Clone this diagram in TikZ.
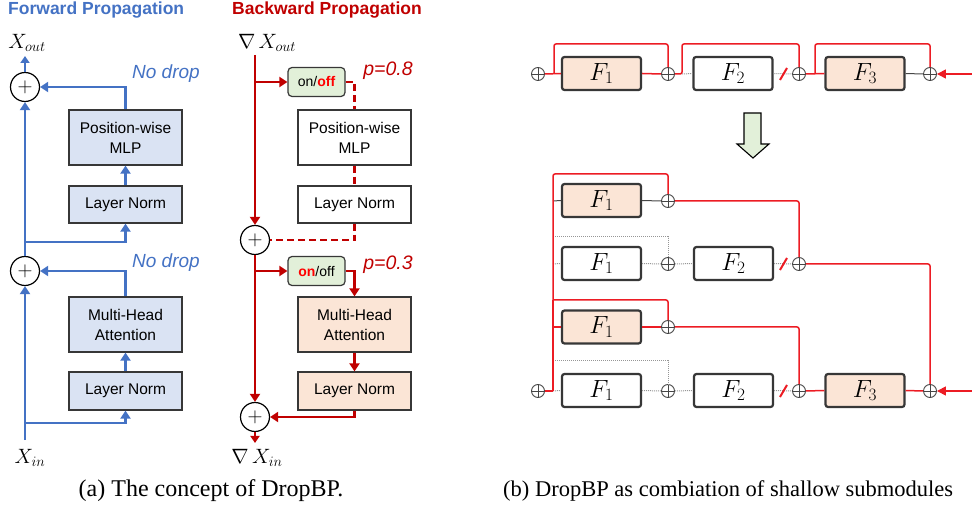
\documentclass[tikz,border=0pt]{standalone}
\usepackage{fontspec}
\setmainfont{Liberation Serif}
\newfontfamily\arial{Liberation Sans}
\usetikzlibrary{arrows.meta,calc}
\definecolor{fblue}{RGB}{68,114,196}
\definecolor{dred}{RGB}{192,0,0}
\definecolor{bred}{RGB}{236,28,36}
\definecolor{boxblue}{RGB}{218,227,243}
\definecolor{peach}{RGB}{251,229,214}
\definecolor{lgreen}{RGB}{226,240,217}
\definecolor{sgray}{RGB}{70,70,70}
\definecolor{dgray}{RGB}{150,150,150}
\definecolor{bdr}{RGB}{55,55,55}
\tikzset{
  arr/.style={-{Triangle[length=8pt,width=10pt]}},
  sarr/.style={-{Triangle[length=7pt,width=9pt]}},
  fline/.style={draw=fblue,line width=2.4pt},
  rline/.style={draw=dred,line width=2.4pt},
  pluscirc/.style={circle,draw=black,line width=1.2pt,minimum size=29pt,inner sep=0pt,font=\fontsize{22}{22}\selectfont},
  bbox/.style={draw=bdr,line width=1.3pt,minimum width=113pt,align=center,font=\arial\fontsize{15.5}{20}\selectfont},
  onoff/.style={draw=bdr,line width=1.2pt,fill=lgreen,rounded corners=4pt,minimum width=57pt,minimum height=29pt,font=\arial\fontsize{14}{16}\selectfont},
  fbox/.style={draw=bdr,line width=2.2pt,rounded corners=2.5pt,minimum width=79pt,minimum height=33pt,font=\fontsize{27}{27}\selectfont},
  oplus/.style={circle,draw=sgray,line width=0.9pt,minimum size=13pt,inner sep=0pt,
    path picture={\draw[sgray,line width=0.9pt] (path picture bounding box.north) -- (path picture bounding box.south) (path picture bounding box.west) -- (path picture bounding box.east);}},
  redl/.style={draw=bred,line width=1.5pt,rounded corners=2pt},
  grayl/.style={draw=sgray,line width=1pt},
  dotl/.style={draw=dgray,line width=1pt,dash pattern=on 1pt off 1pt},
  slash/.style={draw=bred,line width=2pt},
  lbl/.style={inner sep=0pt},
  mlbl/.style={inner sep=0pt,font=\fontsize{20}{20}\selectfont},
}
\begin{document}
\begin{tikzpicture}[x=1pt,y=-1pt]
\useasboundingbox (0,0) rectangle (972,510);

% ---------------- (a) Forward ----------------
\node[lbl,text=fblue,font=\arial\bfseries\fontsize{17.5}{17.5}\selectfont,anchor=west] (ftitle) at (8,10) {Forward Propagation};
\node[mlbl] (fxout) at (27,43) {$X_{out}$};
\node[mlbl] (fxin) at (30,458) {$X_{in}$};
\node[pluscirc] (fp1) at (25,87) {$+$};
\node[pluscirc] (fp2) at (25,271) {$+$};
\node[bbox,fill=boxblue,minimum height=55pt] (fmlp) at (125.5,137.5) {Position-wise\\MLP};
\node[bbox,fill=boxblue,minimum height=37pt] (fln1) at (125.5,204.5) {Layer Norm};
\node[bbox,fill=boxblue,minimum height=55pt] (fmha) at (125.5,324.5) {Multi-Head\\Attention};
\node[bbox,fill=boxblue,minimum height=38pt] (fln2) at (125.5,391) {Layer Norm};
\node[lbl,text=fblue,font=\arial\itshape\fontsize{19}{19}\selectfont] (fnd1) at (166,74) {No drop};
\node[lbl,text=fblue,font=\arial\itshape\fontsize{19}{19}\selectfont] (fnd2) at (166,263) {No drop};
\coordinate (fin) at (25,440);
\coordinate (fb2) at (25,423);
\coordinate (fb1) at (25,242);
\coordinate (fout) at (25,56);
\draw[fline,arr] (fin) -- (fp2.south);
\draw[fline,arr] (fb2) -| (fln2.south);
\draw[fline,arr] (fln2) -- (fmha);
\draw[fline,arr] (fmha.north) |- (fp2.east);
\draw[fline,arr] (fp2.north) -- (fp1.south);
\draw[fline,arr] (fb1) -| (fln1.south);
\draw[fline,arr] (fln1) -- (fmlp);
\draw[fline,arr] (fmlp.north) |- (fp1.east);
\draw[fline,sarr] (fp1.north) -- (fout);

% ---------------- (a) Backward ----------------
\node[lbl,text=dred,font=\arial\bfseries\fontsize{17.5}{17.5}\selectfont,anchor=west] (btitle) at (232,10) {Backward Propagation};
\node[mlbl] (bxout) at (267,43) {$\nabla\,X_{out}$};
\node[mlbl] (bxin) at (257,458) {$\nabla\,X_{in}$};
\node[pluscirc] (bp1) at (255,240) {$+$};
\node[pluscirc] (bp2) at (255,417) {$+$};
\node[onoff] (oo1) at (316.5,82) {on/\textcolor{red}{\bfseries off}};
\node[onoff] (oo2) at (316.5,271) {\textcolor{red}{\bfseries on}/off};
\node[bbox,fill=white,minimum height=55pt] (bmlp) at (354.5,137.5) {Position-wise\\MLP};
\node[bbox,fill=white,minimum height=37pt] (bln1) at (354.5,204.5) {Layer Norm};
\node[bbox,fill=peach,minimum height=55pt] (bmha) at (354.5,324.5) {Multi-Head\\Attention};
\node[bbox,fill=peach,minimum height=38pt] (bln2) at (354.5,391) {Layer Norm};
\node[lbl,text=dred,font=\arial\itshape\fontsize{19.5}{19.5}\selectfont] (pp1) at (388,71) {p=0.8};
\node[lbl,text=dred,font=\arial\itshape\fontsize{19.5}{19.5}\selectfont] (pp2) at (388,265) {p=0.3};
\coordinate (bout) at (255,55);
\coordinate (bb1) at (255,82);
\coordinate (bb2) at (255,271);
\coordinate (bin) at (255,443);
\draw[rline,arr] (bout) -- (bp1.north);
\draw[rline,arr] (bb1) -- (oo1.west);
\draw[rline,dash pattern=on 7pt off 4pt] (oo1.east) -| (bmlp.north);
\draw[rline,dash pattern=on 7pt off 4pt] (bmlp) -- (bln1);
\draw[rline,dash pattern=on 7pt off 4pt] (bln1.south) |- (bp1.east);
\draw[rline,arr] (bp1.south) -- (bp2.north);
\draw[rline,arr] (bb2) -- (oo2.west);
\draw[rline,arr] (oo2.east) -| (bmha.north);
\draw[rline,arr] (bmha) -- (bln2);
\draw[rline,arr] (bln2.south) |- (bp2.east);
\draw[rline,sarr] (bp2.south) -- (bin);

% ---------------- (b) top row ----------------
\node[oplus] (ta) at (538,74) {};
\node[fbox,fill=peach] (tf1) at (601.5,73.5) {$F_1$};
\node[oplus] (tb) at (668,74) {};
\node[fbox,fill=white] (tf2) at (733,73.5) {$F_2$};
\node[oplus] (tc) at (799,74) {};
\node[fbox,fill=peach] (tf3) at (865,73.5) {$F_3$};
\node[oplus] (td) at (930,74) {};
\coordinate (tl1) at (554,74);
\coordinate (tl2) at (682,74);
\coordinate (tl3) at (815,74);
\coordinate (tin) at (972,74);
\coordinate (ts1) at (780,80);
\coordinate (ts2) at (787,68);
\draw[dotl] (tl2) -- (tf2.west);
\draw[dotl] (tf2.east) -- (tc.west);
\draw[grayl] (tf3.east) -- (td.west);
\draw[redl] (ta.east) -- (tf1.west);
\draw[redl] (tl1) -- ++(0,-30) -| (tb.north);
\draw[redl] (tf1.east) -- (tb.west);
\draw[redl] (tb.east) -- (tl2) -- ++(0,-30) -| (tc.north);
\draw[redl] (tc.east) -- (tf3.west);
\draw[redl] (tl3) -- ++(0,-30) -| (td.north);
\draw[slash] (ts1) -- (ts2);
\draw[redl,-{Triangle[length=9pt,width=9pt]}] (tin) -- (td.east);

% block arrow
\draw[fill=lgreen,draw=black,line width=1.1pt,line join=miter] (744,113) -- (761,113) -- (761,144) -- (769,144) -- (753,158) -- (737,144) -- (744,144) -- cycle;

% ---------------- (b) lower rows ----------------
\node[fbox,fill=peach] (r1f1) at (601.5,200.5) {$F_1$};
\node[oplus] (r1o1) at (668,201) {};
\node[fbox,fill=white] (r2f1) at (601.5,263.5) {$F_1$};
\node[oplus] (r2o1) at (668,264) {};
\node[fbox,fill=white] (r2f2) at (733.5,263.5) {$F_2$};
\node[oplus] (r2o2) at (799,264) {};
\node[fbox,fill=peach] (r3f1) at (601.5,327) {$F_1$};
\node[oplus] (r3o1) at (668,327) {};
\node[oplus] (r4o0) at (538,391) {};
\node[fbox,fill=white] (r4f1) at (601.5,390.5) {$F_1$};
\node[oplus] (r4o1) at (668,391) {};
\node[fbox,fill=white] (r4f2) at (733.5,390.5) {$F_2$};
\node[oplus] (r4o2) at (799,391) {};
\node[fbox,fill=peach] (r4f3) at (865,390.5) {$F_3$};
\node[oplus] (r4o3) at (930,391) {};
\coordinate (bus1) at (553,201);
\coordinate (busd2) at (553,237);
\coordinate (bus2) at (553,264);
\coordinate (bus3t) at (553,300);
\coordinate (bus3) at (553,327);
\coordinate (busd4) at (553,361);
\coordinate (bus4) at (553,391);
\coordinate (r4in) at (972,391);
\coordinate (s2a) at (780,270);
\coordinate (s2b) at (787,258);
\coordinate (s4a) at (780,397);
\coordinate (s4b) at (787,385);
% dotted paths
\draw[dotl] (busd2) -| (r2o1.north);
\draw[dotl] (bus2) -- (r2f1.west);
\draw[dotl] (r2f1.east) -- (r2o1.west);
\draw[dotl] (r2o1.east) -- (r2f2.west);
\draw[dotl] (r2f2.east) -- (r2o2.west);
\draw[dotl] (busd4) -| (r4o1.north);
\draw[dotl] (bus4) -- (r4f1.west);
\draw[dotl] (r4f1.east) -- (r4o1.west);
\draw[dotl] (r4o1.east) -- (r4f2.west);
\draw[dotl] (r4f2.east) -- (r4o2.west);
% gray solid
\draw[grayl] (bus1) -- (r1f1.west);
\draw[grayl] (r1f1.east) -- (r1o1.west);
% red paths
\draw[redl] (bus4) -- (553,174) -| (r1o1.north);
\draw[draw=bred,line width=2.6pt] (bus3t) -- (bus4);
\draw[redl] (r4o0.east) -- (bus4);
\draw[redl] (r1o1.east) -| (r2o2.north);
\draw[redl] (r2o2.east) -| (r4o3.north);
\draw[redl] (bus3t) -| (r3o1.north);
\draw[redl] (bus3) -- (r3f1.west);
\draw[redl] (r3f1.east) -- (r3o1.west);
\draw[redl] (r3o1.east) -| (r4o2.north);
\draw[redl] (r4o2.east) -- (r4f3.west);
\draw[redl] (r4f3.east) -- (r4o3.west);
\draw[redl,-{Triangle[length=9pt,width=9pt]}] (r4in) -- (r4o3.east);
\draw[slash] (s2a) -- (s2b);
\draw[slash] (s4a) -- (s4b);

% captions
\node[lbl,font=\fontsize{24}{24}\selectfont] (capa) at (211,491) {(a) The concept of DropBP.};
\node[lbl,font=\fontsize{22.5}{22.5}\selectfont,anchor=west] (capb) at (503,491) {(b) DropBP as combiation of shallow submodules};
\end{tikzpicture}
\end{document}
